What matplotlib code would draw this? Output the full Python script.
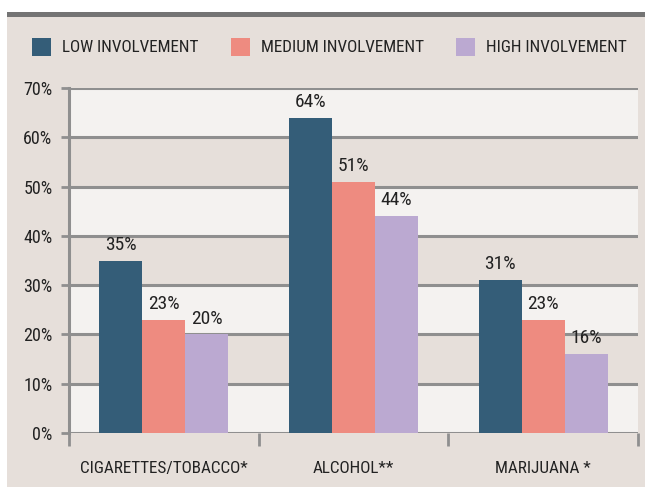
import matplotlib.pyplot as plt
import numpy as np
from matplotlib.patches import Rectangle

# ---------------------------------------------------
# DATA
# ---------------------------------------------------
categories = ["CIGARETTES/TOBACCO*", "ALCOHOL**", "MARIJUANA *"]
series_names = ["LOW INVOLVEMENT", "MEDIUM INVOLVEMENT", "HIGH INVOLVEMENT"]
low_vals = [35, 64, 31]
medium_vals = [23, 51, 23]
high_vals = [20, 44, 16]
y_ticks = [0, 10, 20, 30, 40, 50, 60, 70]

colors = ["#345d78", "#ee8b80", "#bba9d1"]
beige = "#e6dfda"
light = "#f4f2f0"
grid_col = "#8f8f8f"
txt_col = "#222222"

plt.rcParams['font.family'] = ['Roboto Condensed', 'DejaVu Sans']

# ---------------------------------------------------
# FIGURE + BACKGROUND
# ---------------------------------------------------
W, H = 645, 487
fig = plt.figure(figsize=(W / 100, H / 100), dpi=100)
fig.patch.set_facecolor("white")

fig.patches.append(Rectangle((7 / W, 0), 1 - 7 / W, (H - 17) / H,
                             transform=fig.transFigure, facecolor=beige,
                             edgecolor="none", zorder=-10))
fig.patches.append(Rectangle((7 / W, (H - 17) / H), 1 - 7 / W, 5 / H,
                             transform=fig.transFigure, facecolor="#747474",
                             edgecolor="none", zorder=-10))

ax = fig.add_axes([69 / W, (H - 433) / H, (638 - 69) / W, (433 - 88) / H])
ax.set_facecolor("none")

# alternating bands
for lo in y_ticks[:-1:2]:
    ax.axhspan(lo, lo + 10, facecolor=light, edgecolor="none", zorder=0)

for t in y_ticks:
    ax.axhline(t, color=grid_col, linewidth=2.2, zorder=1)

# ---------------------------------------------------
# BARS
# ---------------------------------------------------
x = np.arange(len(categories))
width = 0.227
all_vals = [low_vals, medium_vals, high_vals]

for i, vals in enumerate(all_vals):
    pos = x + (i - 1) * width
    ax.bar(pos, vals, width, color=colors[i], zorder=2)
    for p, v in zip(pos, vals):
        ax.text(p, v + 1.4, f"{v}%", ha="center", va="bottom",
                fontsize=14, color=txt_col)

# ---------------------------------------------------
# AXES STYLE
# ---------------------------------------------------
ax.set_xlim(-0.5, len(categories) - 0.5)
ax.set_ylim(0, 70)

for s in ["top", "right", "bottom"]:
    ax.spines[s].set_visible(False)
ax.spines["left"].set_color(grid_col)
ax.spines["left"].set_linewidth(2.2)
ax.spines["left"].set_bounds(0, 70)

ax.set_yticks(y_ticks)
ax.set_yticklabels([f"{t}%" for t in y_ticks], fontsize=13, color=txt_col)
ax.tick_params(axis="y", length=6, width=2, color=grid_col, pad=6)

ax.set_xticks(np.arange(len(categories) + 1) - 0.5)
ax.set_xticklabels([])
ax.tick_params(axis="x", length=9, width=2, color=grid_col, direction="out")
ax.set_xticks(x, minor=True)
ax.set_xticklabels(categories, minor=True, fontsize=12.3, color=txt_col)
ax.tick_params(axis="x", which="minor", length=0, pad=20)

# ---------------------------------------------------
# LEGEND
# ---------------------------------------------------
sq_x = [32, 231, 456]
for i, name in enumerate(series_names):
    fig.patches.append(Rectangle((sq_x[i] / W, (H - 56) / H), 19 / W, 18 / H,
                                 transform=fig.transFigure,
                                 facecolor=colors[i], edgecolor="none"))
    fig.text((sq_x[i] + 30) / W, (H - 48) / H, name, fontsize=12.3,
             va="center", ha="left", color=txt_col)

fig.savefig("out.png", dpi=100, facecolor=fig.get_facecolor())
